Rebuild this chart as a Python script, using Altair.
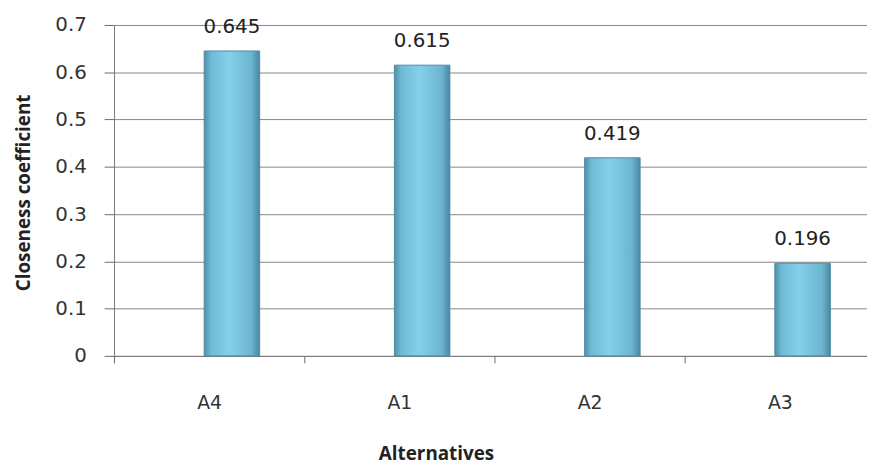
import altair as alt
import pandas as pd

categories = ["A4", "A1", "A2", "A3"]
values = [0.645, 0.615, 0.419, 0.196]
y_ticks = [0, 0.1, 0.2, 0.3, 0.4, 0.5, 0.6, 0.7]

df = pd.DataFrame({"alt": categories, "cc": values})

num_font = "DejaVu Sans"
title_font = "Open Sans"

grad = alt.Gradient(
    gradient="linear",
    x1=0, x2=1, y1=0, y2=0,
    stops=[
        alt.GradientStop(offset=0, color="#4f8fa8"),
        alt.GradientStop(offset=0.12, color="#6fbad6"),
        alt.GradientStop(offset=0.45, color="#84cfe9"),
        alt.GradientStop(offset=0.85, color="#6cb5d0"),
        alt.GradientStop(offset=1, color="#4a87a0"),
    ],
)

x_enc = alt.X(
    "alt:N",
    sort=categories,
    scale=alt.Scale(range=[0, 768], paddingInner=0, paddingOuter=0),
    axis=alt.Axis(
        title="Alternatives",
        labelAngle=0,
        labelFont=num_font,
        labelFontSize=19,
        labelColor="#333333",
        labelPadding=31,
        domainColor="#7a7a7a",
        tickColor="#6a6a6a",
        tickSize=7,
        tickBand="extent",
        titleFont=title_font,
        titleFontWeight="bold",
        titleFontSize=19,
        titleColor="#222222",
        titleX=325,
        titleY=99,
        titleAlign="center",
        titleBaseline="middle",
        grid=False,
    ),
)

y_enc = alt.Y(
    "cc:Q",
    scale=alt.Scale(domain=[0, 0.7], nice=False, zero=True),
    axis=alt.Axis(
        title="Closeness coefficient",
        values=y_ticks,
        labelExpr="datum.value == 0 ? '0' : format(datum.value, '.1f')",
        labelFont=num_font,
        labelFontSize=20,
        labelColor="#333333",
        labelPadding=18,
        tickSize=10,
        tickColor="#6a6a6a",
        domainColor="#7a7a7a",
        grid=True,
        gridColor="#858585",
        gridWidth=1,
        titleFont=title_font,
        titleFontWeight="bold",
        titleFontSize=19,
        titleColor="#222222",
        titleAngle=270,
        titleX=-91,
        titleY=169,
        titleAlign="center",
        titleBaseline="middle",
    ),
)

base = alt.Chart(df).encode(x=x_enc, y=y_enc)

bars = base.mark_bar(size=56, xOffset=23, color=grad, stroke="#4d8ba3", strokeWidth=1)

labels = base.mark_text(
    xOffset=23, dy=-24, baseline="middle", align="center",
    font=num_font, fontSize=20, color="#222222",
).encode(text=alt.Text("cc:Q", format=".3f"))

chart = (
    alt.layer(bars, labels)
    .properties(
        width=760,
        height=334,
        autosize=alt.AutoSizeParams(type="none"),
        padding={"left": 107, "top": 15, "right": 0, "bottom": 109},
        background="white",
    )
    .configure_view(stroke=None)
)

chart.save("out.html", embed_options={"renderer": "svg", "actions": False})
